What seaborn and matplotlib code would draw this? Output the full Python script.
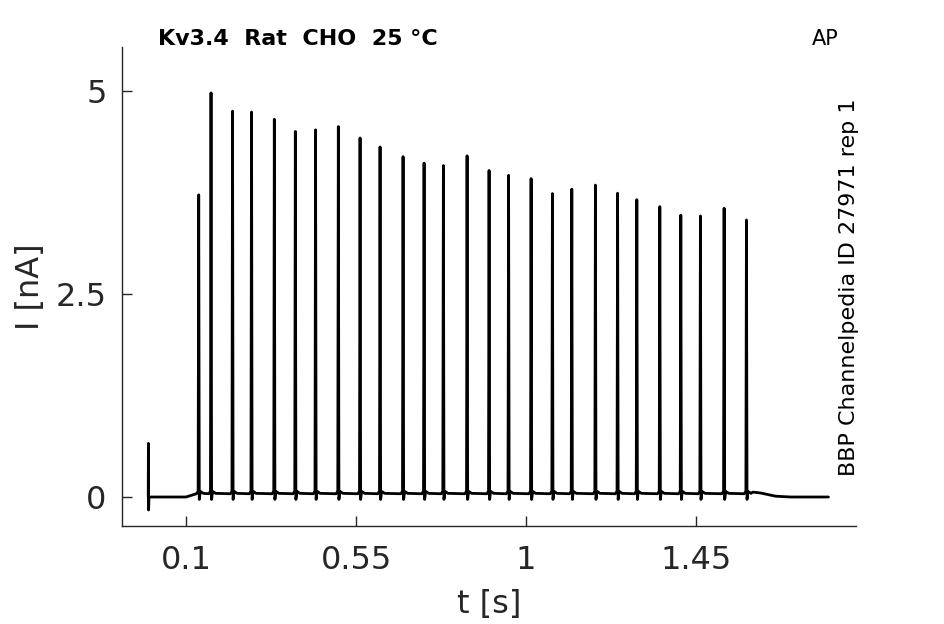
import numpy as np
import pandas as pd
import seaborn as sns
import matplotlib
matplotlib.use('Agg')
import matplotlib.pyplot as plt

# spike times [s] and peak currents [nA]
spike_t = [0.1336, 0.1662, 0.2231, 0.2734, 0.3337, 0.3893, 0.4428, 0.5031, 0.5606,
           0.6135, 0.6744, 0.7300, 0.7811, 0.8438, 0.9020, 0.9536, 1.0132, 1.0696,
           1.1209, 1.1834, 1.2421, 1.2930, 1.3538, 1.4094, 1.4613, 1.5240, 1.5831]
spike_peak = [3.72, 4.975, 4.75, 4.74, 4.65, 4.50, 4.52, 4.56, 4.42,
              4.31, 4.19, 4.11, 4.08, 4.20, 4.02, 3.96, 3.92, 3.735,
              3.79, 3.84, 3.74, 3.66, 3.575, 3.47, 3.46, 3.555, 3.41]

# shape around one spike (offset in s, current in nA), peak inserted at offset 0
shape_dt = [-0.006, -0.0015, 0.0, 0.0015, 0.004, 0.012]
shape_i = [0.04, 0.07, None, -0.03, 0.07, 0.045]

# start (capacitive transient) and end of the sweep
start_t = [0.0, 0.0005, 0.001, 0.002, 0.10, 0.12]
start_i = [0.0, 0.66, -0.16, 0.0, 0.0, 0.03]
end_t = [1.60, 1.62, 1.66, 1.70, 1.80]
end_i = [0.06, 0.05, 0.01, 0.0, 0.0]

ticks_x = [0.1, 0.55, 1, 1.45]
ticks_x_lab = ['0.1', '0.55', '1', '1.45']
ticks_y = [0, 2.5, 5]
ticks_y_lab = ['0', '2.5', '5']

# build the trace vertices
t_all = list(start_t)
i_all = list(start_i)
for ts, pk in zip(spike_t, spike_peak):
    for dt, v in zip(shape_dt, shape_i):
        t_all.append(ts + dt)
        i_all.append(pk if v is None else v)
t_all += end_t
i_all += end_i
df = pd.DataFrame({'t': t_all, 'I': i_all})

sns.set_style('ticks')
plt.rcParams['font.family'] = ['DejaVu Sans']

fig = plt.figure(figsize=(9.45, 6.24), dpi=100)
ax = fig.add_axes([122/945, 1-526/624, (856-122)/945, (526-47)/624])

sns.lineplot(data=df, x='t', y='I', estimator=None, sort=False,
             color='black', linewidth=2, ax=ax)

ax.set_xlim(-0.0694, 1.873)
ax.set_ylim(-0.357, 5.54)
ax.set_xticks(ticks_x)
ax.set_xticklabels(ticks_x_lab)
ax.set_yticks(ticks_y)
ax.set_yticklabels(ticks_y_lab)
ax.tick_params(direction='in', length=7, width=1, colors='#262626',
               labelsize=23, pad=14)
ax.tick_params(axis='y', pad=11)
ax.set_xlabel('t [s]', fontsize=23, color='#262626', labelpad=9)
ax.set_ylabel('I [nA]', fontsize=23, color='#262626', labelpad=7)
for s in ['left', 'bottom']:
    ax.spines[s].set_color('#262626')
    ax.spines[s].set_linewidth(1)
sns.despine(ax=ax)

fig.text(158/945, 1-39/624, 'Kv3.4  Rat  CHO  25 °C', fontsize=16,
         fontweight='bold', ha='left', va='center', color='black')
fig.text(825/945, 1-39/624, 'AP', fontsize=15, ha='center', va='center',
         color='black')
fig.text(849/945, 1-287/624, 'BBP Channelpedia ID 27971 rep 1', fontsize=16,
         rotation=90, ha='center', va='center', color='black')

fig.savefig('out.png', dpi=100)
